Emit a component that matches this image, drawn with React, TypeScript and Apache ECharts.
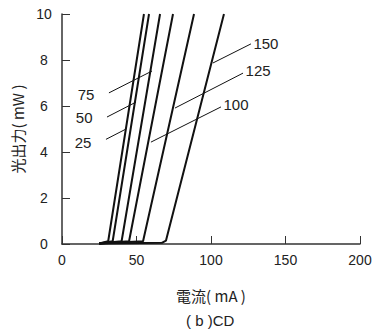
import React, { useEffect, useRef } from "react";
import * as echarts from "echarts";

// L-I curves: [current mA, optical power mW]
const curveNames = ["25", "50", "75", "100", "125", "150"];
const curve25 = [[25, 0.02], [31, 0.12], [55, 10]];
const curve50 = [[25, 0.02], [34, 0.12], [58.4, 10]];
const curve75 = [[25, 0.02], [40, 0.12], [65.8, 10]];
const curve100 = [[25, 0.02], [45, 0.12], [74.5, 10]];
const curve125 = [[25, 0.02], [54.4, 0.12], [88.6, 10]];
const curve150 = [[25, 0.02], [67, 0.05], [69.8, 0.15], [108.7, 10]];
const curves = [curve25, curve50, curve75, curve100, curve125, curve150];

// leader lines: [label end, curve end]
const lead25 = [[29.5, 4.55], [43.0, 5.0]];
const lead50 = [[30.2, 5.52], [49.7, 6.17]];
const lead75 = [[31.5, 6.57], [60.4, 7.52]];
const lead100 = [[106.7, 5.96], [59.7, 4.43]];
const lead125 = [[121.5, 7.43], [75.8, 5.91]];
const lead150 = [[126.8, 8.7], [101.3, 7.87]];
const leads = [lead25, lead50, lead75, lead100, lead125, lead150];
const leadSide = ["left", "left", "left", "right", "right", "right"];
const leadDist = [14, 14, 14, 2, 2, 2];
const leadDy = [3, 0, 2, -2, -3, 0];

const xTicks = [0, 50, 100, 150, 200];
const yTicks = [0, 2, 4, 6, 8, 10];

const FONT = "'Liberation Sans', Arial, 'Noto Sans CJK JP', sans-serif";
const CJK = "'Noto Sans CJK JP', 'Liberation Sans', sans-serif";

export default function App() {
  const ref = useRef<HTMLDivElement>(null);
  useEffect(() => {
    if (!ref.current) return;
    const chart = echarts.init(ref.current, undefined, { renderer: "svg" });
    const series: any[] = [];
    curves.forEach((c, i) => {
      series.push({
        type: "line",
        name: curveNames[i],
        data: c,
        symbol: "none",
        lineStyle: { color: "#111", width: 2 },
        z: 3,
      });
    });
    leads.forEach((l, i) => {
      series.push({
        type: "line",
        data: l.map((p, j) =>
          j === 0
            ? {
                value: p,
                label: {
                  show: true,
                  position: leadSide[i],
                  distance: leadDist[i],
                  offset: [0, leadDy[i]],
                  formatter: curveNames[i],
                  color: "#222",
                  fontSize: 15,
                  fontFamily: FONT,
                },
              }
            : { value: p }
        ),
        symbol: "circle",
        showSymbol: true,
        symbolSize: 1,
        itemStyle: { color: "rgba(0,0,0,0)" },
        lineStyle: { color: "#111", width: 1 },
        z: 2,
      });
    });
    chart.setOption({
      animation: false,
      grid: { left: 62, right: 17, top: 14, bottom: 91 },
      xAxis: {
        type: "value",
        min: xTicks[0],
        max: xTicks[xTicks.length - 1],
        interval: 50,
        name: "電流( mA )",
        nameLocation: "middle",
        nameGap: 44,
        nameTextStyle: { color: "#222", fontSize: 15, fontFamily: CJK },
        axisLine: { lineStyle: { color: "#333", width: 1.5 } },
        axisTick: { inside: true, length: 8, lineStyle: { color: "#333", width: 1 } },
        axisLabel: { color: "#222", fontSize: 14, fontFamily: FONT, margin: 9 },
        splitLine: { show: false },
      },
      yAxis: {
        type: "value",
        min: yTicks[0],
        max: yTicks[yTicks.length - 1],
        interval: 2,
        name: "光出力( mW )",
        nameLocation: "middle",
        nameGap: 36,
        nameTextStyle: { color: "#222", fontSize: 15, fontFamily: CJK },
        axisLine: { lineStyle: { color: "#333", width: 1.5 } },
        axisTick: { inside: true, length: 8, lineStyle: { color: "#333", width: 1 } },
        axisLabel: { color: "#222", fontSize: 14, fontFamily: FONT, margin: 18, align: "center" },
        splitLine: { show: false },
      },
      graphic: [
        {
          type: "text",
          left: 186,
          top: 313,
          style: { text: "( b )CD", fill: "#222", fontSize: 15, fontFamily: FONT },
        },
      ],
      series,
    });
    return () => chart.dispose();
  }, []);
  return <div ref={ref} style={{ width: 377, height: 335, position: "absolute", left: 0, top: 0 }} />;
}
